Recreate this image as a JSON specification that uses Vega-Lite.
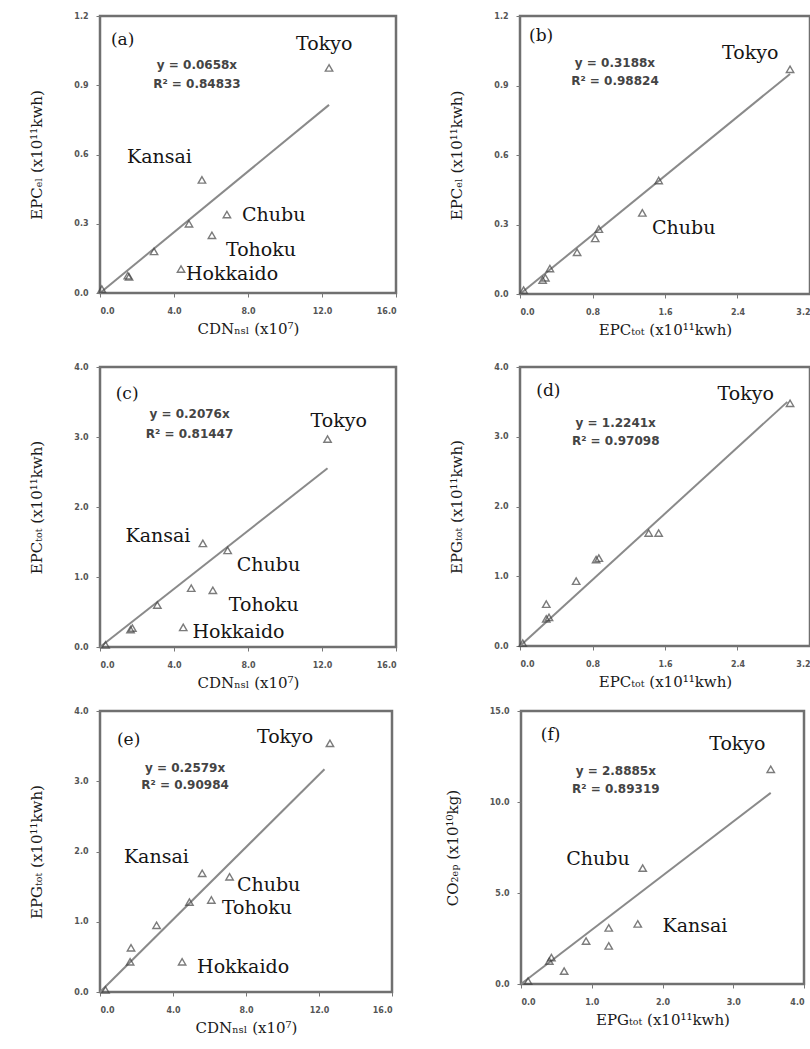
{
  "$schema": "https://vega.github.io/schema/vega-lite/v6.json",
  "background": "white",
  "padding": {"left": 28, "top": 10, "right": 0, "bottom": 0},
  "spacing": 13,
  "datasets": {
    "pts": [
      {"p":"a","r":"Tokyo","x":12.38,"y":0.975},{"p":"a","r":"Kansai","x":5.51,"y":0.49},{"p":"a","r":"Chubu","x":6.86,"y":0.34},{"p":"a","r":"Kyushu","x":4.81,"y":0.30},{"p":"a","r":"Tohoku","x":6.05,"y":0.25},{"p":"a","r":"Chugoku","x":2.92,"y":0.18},{"p":"a","r":"Hokkaido","x":4.38,"y":0.104},{"p":"a","r":"Shikoku","x":1.57,"y":0.07},{"p":"a","r":"Hokuriku","x":1.5,"y":0.075},{"p":"a","r":"Okinawa","x":0.1,"y":0.017},
      {"p":"b","r":"Tokyo","x":2.98,"y":0.97},{"p":"b","r":"Kansai","x":1.53,"y":0.49},{"p":"b","r":"Chubu","x":1.35,"y":0.35},{"p":"b","r":"Kyushu","x":0.87,"y":0.28},{"p":"b","r":"Tohoku","x":0.83,"y":0.24},{"p":"b","r":"Chugoku","x":0.63,"y":0.18},{"p":"b","r":"Hokkaido","x":0.33,"y":0.11},{"p":"b","r":"Shikoku","x":0.28,"y":0.07},{"p":"b","r":"Hokuriku","x":0.25,"y":0.06},{"p":"b","r":"Okinawa","x":0.04,"y":0.017},
      {"p":"c","r":"Tokyo","x":12.3,"y":2.97},{"p":"c","r":"Kansai","x":5.56,"y":1.48},{"p":"c","r":"Chubu","x":6.9,"y":1.38},{"p":"c","r":"Kyushu","x":4.93,"y":0.84},{"p":"c","r":"Tohoku","x":6.1,"y":0.81},{"p":"c","r":"Chugoku","x":3.1,"y":0.6},{"p":"c","r":"Hokkaido","x":4.5,"y":0.28},{"p":"c","r":"Shikoku","x":1.75,"y":0.27},{"p":"c","r":"Hokuriku","x":1.65,"y":0.25},{"p":"c","r":"Okinawa","x":0.3,"y":0.03},
      {"p":"d","r":"Tokyo","x":2.98,"y":3.48},{"p":"d","r":"Kansai","x":1.53,"y":1.62},{"p":"d","r":"Chubu","x":1.42,"y":1.62},{"p":"d","r":"Kyushu","x":0.87,"y":1.26},{"p":"d","r":"Tohoku","x":0.84,"y":1.24},{"p":"d","r":"Chugoku","x":0.62,"y":0.93},{"p":"d","r":"Shikoku","x":0.29,"y":0.6},{"p":"d","r":"Hokkaido","x":0.32,"y":0.41},{"p":"d","r":"Hokuriku","x":0.29,"y":0.39},{"p":"d","r":"Okinawa","x":0.03,"y":0.04},
      {"p":"e","r":"Tokyo","x":12.6,"y":3.54},{"p":"e","r":"Kansai","x":5.6,"y":1.69},{"p":"e","r":"Chubu","x":7.1,"y":1.64},{"p":"e","r":"Kyushu","x":4.9,"y":1.28},{"p":"e","r":"Tohoku","x":6.1,"y":1.31},{"p":"e","r":"Chugoku","x":3.1,"y":0.95},{"p":"e","r":"Shikoku","x":1.7,"y":0.63},{"p":"e","r":"Hokuriku","x":1.65,"y":0.43},{"p":"e","r":"Hokkaido","x":4.5,"y":0.43},{"p":"e","r":"Okinawa","x":0.3,"y":0.03},
      {"p":"f","r":"Tokyo","x":3.53,"y":11.8},{"p":"f","r":"Chubu","x":1.72,"y":6.37},{"p":"f","r":"Kansai","x":1.65,"y":3.3},{"p":"f","r":"Tohoku","x":1.24,"y":3.08},{"p":"f","r":"Kyushu","x":1.24,"y":2.09},{"p":"f","r":"Chugoku","x":0.92,"y":2.36},{"p":"f","r":"Hokkaido","x":0.4,"y":1.26},{"p":"f","r":"Hokuriku","x":0.43,"y":1.45},{"p":"f","r":"Shikoku","x":0.61,"y":0.71},{"p":"f","r":"Okinawa","x":0.1,"y":0.16}
    ],
    "fit": [
      {"p":"a","x":0,"y":0},{"p":"a","x":12.38,"y":0.815},
      {"p":"b","x":0,"y":0},{"p":"b","x":2.98,"y":0.95},
      {"p":"c","x":0,"y":0},{"p":"c","x":12.3,"y":2.553},
      {"p":"d","x":0,"y":0},{"p":"d","x":2.95,"y":3.5},
      {"p":"e","x":0,"y":0},{"p":"e","x":12.3,"y":3.17},
      {"p":"f","x":0,"y":0},{"p":"f","x":3.53,"y":10.5}
    ],
    "ann": [
      {"p":"a","k":"tag","t":"(a)","x":0.59,"y":1.096},
      {"p":"a","k":"eq","t":"y = 0.0658x","x":5.24,"y":0.988},
      {"p":"a","k":"eq","t":"R² = 0.84833","x":5.24,"y":0.905},
      {"p":"a","k":"name","t":"Tokyo","x":10.6,"y":1.08},
      {"p":"a","k":"name","t":"Kansai","x":1.46,"y":0.589},
      {"p":"a","k":"name","t":"Chubu","x":7.68,"y":0.338},
      {"p":"a","k":"name","t":"Tohoku","x":6.81,"y":0.186},
      {"p":"a","k":"name","t":"Hokkaido","x":4.65,"y":0.082},
      {"p":"b","k":"tag","t":"(b)","x":0.1,"y":1.114},
      {"p":"b","k":"eq","t":"y = 0.3188x","x":1.048,"y":0.997},
      {"p":"b","k":"eq","t":"R² = 0.98824","x":1.048,"y":0.919},
      {"p":"b","k":"name","t":"Tokyo","x":2.23,"y":1.04},
      {"p":"b","k":"name","t":"Chubu","x":1.457,"y":0.285},
      {"p":"c","k":"tag","t":"(c)","x":0.85,"y":3.62},
      {"p":"c","k":"eq","t":"y = 0.2076x","x":4.84,"y":3.33},
      {"p":"c","k":"eq","t":"R² = 0.81447","x":4.84,"y":3.05},
      {"p":"c","k":"name","t":"Tokyo","x":11.38,"y":3.23},
      {"p":"c","k":"name","t":"Kansai","x":1.38,"y":1.59},
      {"p":"c","k":"name","t":"Chubu","x":7.39,"y":1.17},
      {"p":"c","k":"name","t":"Tohoku","x":6.96,"y":0.6},
      {"p":"c","k":"name","t":"Hokkaido","x":5.0,"y":0.21},
      {"p":"d","k":"tag","t":"(d)","x":0.18,"y":3.66},
      {"p":"d","k":"eq","t":"y = 1.2241x","x":1.056,"y":3.2},
      {"p":"d","k":"eq","t":"R² = 0.97098","x":1.056,"y":2.94},
      {"p":"d","k":"name","t":"Tokyo","x":2.18,"y":3.61},
      {"p":"e","k":"tag","t":"(e)","x":0.93,"y":3.59},
      {"p":"e","k":"eq","t":"y = 0.2579x","x":4.66,"y":3.19},
      {"p":"e","k":"eq","t":"R² = 0.90984","x":4.66,"y":2.95},
      {"p":"e","k":"name","t":"Tokyo","x":8.6,"y":3.63},
      {"p":"e","k":"name","t":"Kansai","x":1.31,"y":1.92},
      {"p":"e","k":"name","t":"Chubu","x":7.5,"y":1.52},
      {"p":"e","k":"name","t":"Tohoku","x":6.68,"y":1.2},
      {"p":"e","k":"name","t":"Hokkaido","x":5.32,"y":0.36},
      {"p":"f","k":"tag","t":"(f)","x":0.28,"y":13.7},
      {"p":"f","k":"eq","t":"y = 2.8885x","x":1.34,"y":11.7},
      {"p":"f","k":"eq","t":"R² = 0.89319","x":1.34,"y":10.7},
      {"p":"f","k":"name","t":"Tokyo","x":2.66,"y":13.2},
      {"p":"f","k":"name","t":"Chubu","x":0.64,"y":6.87},
      {"p":"f","k":"name","t":"Kansai","x":2.0,"y":3.19}
    ]
  },
  "vconcat": [
    {"spacing": 22, "vconcat": [
    {"spacing": 50, "hconcat": [
      {"width": 296, "height": 277,
       "encoding": {
         "x": {"field":"x","type":"quantitative","scale":{"domain":[0,16],"nice":false},"axis":{"title":"CDNₙₛₗ (x10⁷)","values":[0,4,8,12,16],"format":".1f"}},
         "y": {"field":"y","type":"quantitative","scale":{"domain":[0,1.2],"nice":false},"axis":{"title":"EPCₑₗ (x10¹¹kwh)","values":[0,0.3,0.6,0.9,1.2],"format":".1f"}}},
       "layer": [
         {"data":{"name":"fit"},"transform":[{"filter":"datum.p=='a'"}],"mark":{"type":"line","color":"#8a8a8a","strokeWidth":2},"encoding":{}},
         {"data":{"name":"pts"},"transform":[{"filter":"datum.p=='a'"}],"mark":{"type":"point","shape":"triangle-up","filled":false,"size":55,"color":"#444","strokeWidth":1.4}},
         {"data":{"name":"ann"},"transform":[{"filter":"datum.p=='a' && datum.k=='name'"}],"mark":{"type":"text","style":"name"},"encoding":{"text":{"field":"t"}}},
         {"data":{"name":"ann"},"transform":[{"filter":"datum.p=='a' && datum.k=='eq'"}],"mark":{"type":"text","style":"eq"},"encoding":{"text":{"field":"t"}}},
         {"data":{"name":"ann"},"transform":[{"filter":"datum.p=='a' && datum.k=='tag'"}],"mark":{"type":"text","style":"tag"},"encoding":{"text":{"field":"t"}}}
       ]},
      {"width": 290, "height": 278,
       "encoding": {
         "x": {"field":"x","type":"quantitative","scale":{"domain":[0,3.2],"nice":false},"axis":{"title":"EPCₜₒₜ (x10¹¹kwh)","values":[0,0.8,1.6,2.4,3.2],"format":".1f"}},
         "y": {"field":"y","type":"quantitative","scale":{"domain":[0,1.2],"nice":false},"axis":{"title":"EPCₑₗ (x10¹¹kwh)","values":[0,0.3,0.6,0.9,1.2],"format":".1f"}}},
       "layer": [
         {"data":{"name":"fit"},"transform":[{"filter":"datum.p=='b'"}],"mark":{"type":"line","color":"#8a8a8a","strokeWidth":2},"encoding":{}},
         {"data":{"name":"pts"},"transform":[{"filter":"datum.p=='b'"}],"mark":{"type":"point","shape":"triangle-up","filled":false,"size":55,"color":"#444","strokeWidth":1.4}},
         {"data":{"name":"ann"},"transform":[{"filter":"datum.p=='b' && datum.k=='name'"}],"mark":{"type":"text","style":"name"},"encoding":{"text":{"field":"t"}}},
         {"data":{"name":"ann"},"transform":[{"filter":"datum.p=='b' && datum.k=='eq'"}],"mark":{"type":"text","style":"eq"},"encoding":{"text":{"field":"t"}}},
         {"data":{"name":"ann"},"transform":[{"filter":"datum.p=='b' && datum.k=='tag'"}],"mark":{"type":"text","style":"tag"},"encoding":{"text":{"field":"t"}}}
       ]}
    ]},
    {"spacing": 50, "hconcat": [
      {"width": 296, "height": 280,
       "encoding": {
         "x": {"field":"x","type":"quantitative","scale":{"domain":[0,16],"nice":false},"axis":{"title":"CDNₙₛₗ (x10⁷)","values":[0,4,8,12,16],"format":".1f"}},
         "y": {"field":"y","type":"quantitative","scale":{"domain":[0,4],"nice":false},"axis":{"title":"EPCₜₒₜ (x10¹¹kwh)","values":[0,1,2,3,4],"format":".1f"}}},
       "layer": [
         {"data":{"name":"fit"},"transform":[{"filter":"datum.p=='c'"}],"mark":{"type":"line","color":"#8a8a8a","strokeWidth":2},"encoding":{}},
         {"data":{"name":"pts"},"transform":[{"filter":"datum.p=='c'"}],"mark":{"type":"point","shape":"triangle-up","filled":false,"size":55,"color":"#444","strokeWidth":1.4}},
         {"data":{"name":"ann"},"transform":[{"filter":"datum.p=='c' && datum.k=='name'"}],"mark":{"type":"text","style":"name"},"encoding":{"text":{"field":"t"}}},
         {"data":{"name":"ann"},"transform":[{"filter":"datum.p=='c' && datum.k=='eq'"}],"mark":{"type":"text","style":"eq"},"encoding":{"text":{"field":"t"}}},
         {"data":{"name":"ann"},"transform":[{"filter":"datum.p=='c' && datum.k=='tag'"}],"mark":{"type":"text","style":"tag"},"encoding":{"text":{"field":"t"}}}
       ]},
      {"width": 290, "height": 279,
       "encoding": {
         "x": {"field":"x","type":"quantitative","scale":{"domain":[0,3.2],"nice":false},"axis":{"title":"EPCₜₒₜ (x10¹¹kwh)","values":[0,0.8,1.6,2.4,3.2],"format":".1f"}},
         "y": {"field":"y","type":"quantitative","scale":{"domain":[0,4],"nice":false},"axis":{"title":"EPGₜₒₜ (x10¹¹kwh)","values":[0,1,2,3,4],"format":".1f"}}},
       "layer": [
         {"data":{"name":"fit"},"transform":[{"filter":"datum.p=='d'"}],"mark":{"type":"line","color":"#8a8a8a","strokeWidth":2},"encoding":{}},
         {"data":{"name":"pts"},"transform":[{"filter":"datum.p=='d'"}],"mark":{"type":"point","shape":"triangle-up","filled":false,"size":55,"color":"#444","strokeWidth":1.4}},
         {"data":{"name":"ann"},"transform":[{"filter":"datum.p=='d' && datum.k=='name'"}],"mark":{"type":"text","style":"name"},"encoding":{"text":{"field":"t"}}},
         {"data":{"name":"ann"},"transform":[{"filter":"datum.p=='d' && datum.k=='eq'"}],"mark":{"type":"text","style":"eq"},"encoding":{"text":{"field":"t"}}},
         {"data":{"name":"ann"},"transform":[{"filter":"datum.p=='d' && datum.k=='tag'"}],"mark":{"type":"text","style":"tag"},"encoding":{"text":{"field":"t"}}}
       ]}
    ]}
    ]},
    {"spacing": 50, "hconcat": [
      {"width": 292, "height": 281,
       "encoding": {
         "x": {"field":"x","type":"quantitative","scale":{"domain":[0,16],"nice":false},"axis":{"title":"CDNₙₛₗ (x10⁷)","values":[0,4,8,12,16],"format":".1f"}},
         "y": {"field":"y","type":"quantitative","scale":{"domain":[0,4],"nice":false},"axis":{"title":"EPGₜₒₜ (x10¹¹kwh)","values":[0,1,2,3,4],"format":".1f"}}},
       "layer": [
         {"data":{"name":"fit"},"transform":[{"filter":"datum.p=='e'"}],"mark":{"type":"line","color":"#8a8a8a","strokeWidth":2},"encoding":{}},
         {"data":{"name":"pts"},"transform":[{"filter":"datum.p=='e'"}],"mark":{"type":"point","shape":"triangle-up","filled":false,"size":55,"color":"#444","strokeWidth":1.4}},
         {"data":{"name":"ann"},"transform":[{"filter":"datum.p=='e' && datum.k=='name'"}],"mark":{"type":"text","style":"name"},"encoding":{"text":{"field":"t"}}},
         {"data":{"name":"ann"},"transform":[{"filter":"datum.p=='e' && datum.k=='eq'"}],"mark":{"type":"text","style":"eq"},"encoding":{"text":{"field":"t"}}},
         {"data":{"name":"ann"},"transform":[{"filter":"datum.p=='e' && datum.k=='tag'"}],"mark":{"type":"text","style":"tag"},"encoding":{"text":{"field":"t"}}}
       ]},
      {"width": 283, "height": 273,
       "encoding": {
         "x": {"field":"x","type":"quantitative","scale":{"domain":[0,4],"nice":false},"axis":{"title":"EPGₜₒₜ (x10¹¹kwh)","values":[0,1,2,3,4],"format":".1f"}},
         "y": {"field":"y","type":"quantitative","scale":{"domain":[0,15],"nice":false},"axis":{"title":"CO₂ₑₚ (x10¹⁰kg)","values":[0,5,10,15],"format":".1f"}}},
       "layer": [
         {"data":{"name":"fit"},"transform":[{"filter":"datum.p=='f'"}],"mark":{"type":"line","color":"#8a8a8a","strokeWidth":2},"encoding":{}},
         {"data":{"name":"pts"},"transform":[{"filter":"datum.p=='f'"}],"mark":{"type":"point","shape":"triangle-up","filled":false,"size":55,"color":"#444","strokeWidth":1.4}},
         {"data":{"name":"ann"},"transform":[{"filter":"datum.p=='f' && datum.k=='name'"}],"mark":{"type":"text","style":"name"},"encoding":{"text":{"field":"t"}}},
         {"data":{"name":"ann"},"transform":[{"filter":"datum.p=='f' && datum.k=='eq'"}],"mark":{"type":"text","style":"eq"},"encoding":{"text":{"field":"t"}}},
         {"data":{"name":"ann"},"transform":[{"filter":"datum.p=='f' && datum.k=='tag'"}],"mark":{"type":"text","style":"tag"},"encoding":{"text":{"field":"t"}}}
       ]}
    ]}
  ],
  "config": {
    "view": {"stroke": "#707070", "strokeWidth": 2.5},
    "axis": {"domain": false, "grid": false, "tickSize": 4, "tickColor": "#777", "labelFont": "DejaVu Sans", "labelFontSize": 8, "labelFontWeight": "bold", "labelColor": "#555", "titleFont": "DejaVu Serif", "titleFontSize": 15, "titleFontWeight": "normal", "titleColor": "#1a1a1a"},
    "axisX": {"labelPadding": 10, "titlePadding": 6},
    "axisY": {"labelPadding": 8, "titlePadding": 29},
    "style": {
      "name": {"font": "DejaVu Serif", "fontSize": 19, "align": "left", "baseline": "middle", "color": "#151515"},
      "eq": {"font": "DejaVu Sans", "fontSize": 12, "fontWeight": "bold", "align": "center", "baseline": "middle", "color": "#444"},
      "tag": {"font": "DejaVu Serif", "fontSize": 17, "align": "left", "baseline": "middle", "color": "#151515"}
    }
  }
}
